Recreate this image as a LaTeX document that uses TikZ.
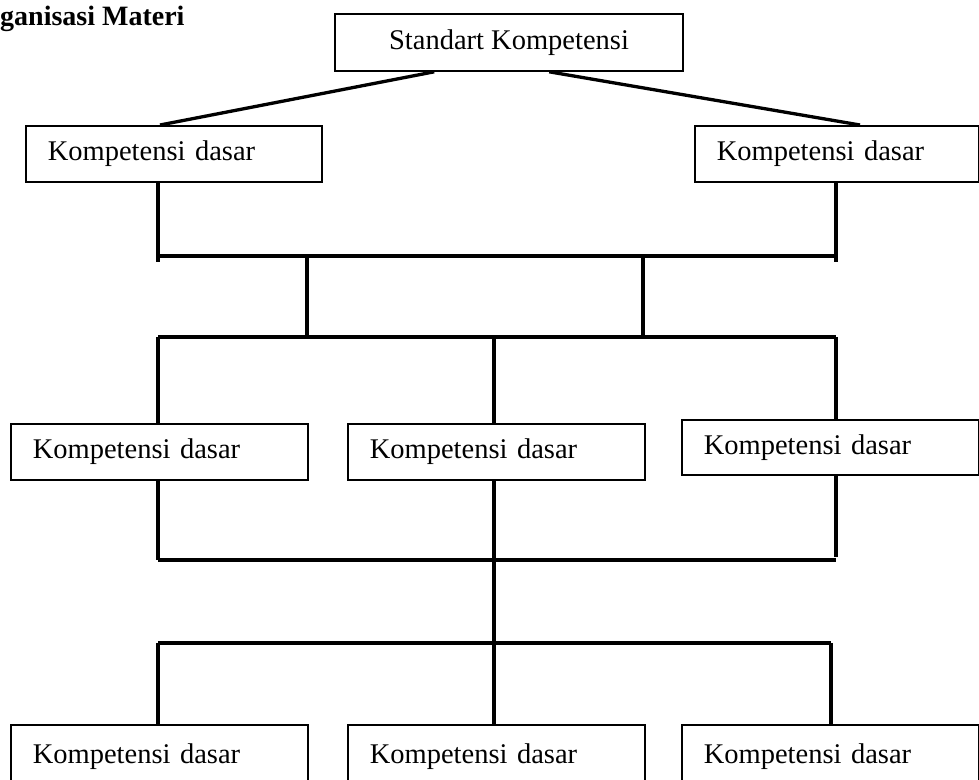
\documentclass[tikz,border=0pt]{standalone}
\usepackage{fontspec}
\setmainfont{Liberation Serif}
\begin{document}
\begin{tikzpicture}[x=1pt,y=-1pt,
  kbox/.style={draw,line width=1.6pt,anchor=north west,minimum height=56pt,
    inner xsep=22pt,inner ysep=0pt,align=left,text width=253pt,
    font=\fontsize{28.5}{34}\selectfont},
  conn/.style={line width=3.3pt}]
\useasboundingbox (0,0) rectangle (979,779);
\node[anchor=base west,inner sep=0pt,font=\fontsize{28}{34}\selectfont\bfseries] (title) at (0,25) {ganisasi Materi};
\node[draw,line width=1.6pt,minimum width=348pt,minimum height=57pt,inner sep=0pt,
  font=\fontsize{28.5}{34}\selectfont] (sk) at (509,42.5) {Standart Kompetensi};
% row 1
\node[kbox,text width=252pt] (kd1) at (25,125) {Kompetensi dasar};
\node[kbox,text width=240pt] (kd2) at (694,125) {Kompetensi dasar};
% row 2
\node[kbox] (m1) at (10,423) {Kompetensi dasar};
\node[kbox] (m2) at (347,423) {Kompetensi dasar};
\node[kbox,minimum height=55pt] (m3) at (681,419) {Kompetensi dasar};
% row 3
\node[kbox,minimum height=64pt] (b1) at (10,724) {Kompetensi dasar};
\node[kbox,minimum height=64pt] (b2) at (347,724) {Kompetensi dasar};
\node[kbox,minimum height=64pt] (b3) at (681,724) {Kompetensi dasar};
% junction coordinates
\coordinate (a1) at (158,256); \coordinate (a2) at (836,256);
\coordinate (e1) at (158,262); \coordinate (e2) at (836,262);
\coordinate (p1) at (307,256); \coordinate (p2) at (643,256);
\coordinate (c1) at (158,337); \coordinate (c2) at (494,337); \coordinate (c3) at (836,337);
\coordinate (d1) at (158,560); \coordinate (d2) at (494,560); \coordinate (d3) at (836,560);
\coordinate (d3e) at (836,557);
\coordinate (f1) at (158,643); \coordinate (f2) at (494,643); \coordinate (f3) at (831,643);
% connectors
\draw[conn] ([xshift=100pt]sk.south west) -- ([xshift=135pt]kd1.north west);
\draw[conn] ([xshift=215pt]sk.south west) -- ([xshift=166pt]kd2.north west);
\draw[conn] (kd1.south -| e1) -- (e1);
\draw[conn] (kd2.south -| e2) -- (e2);
\draw[conn] (a1) -- (a2);
\draw[conn] (p1) -- (p1 |- c1);
\draw[conn] (p2) -- (p2 |- c1);
\draw[conn] (c1) -- (c3);
\draw[conn] (c1) -- (c1 |- m1.north);
\draw[conn] (c2) -- (c2 |- m2.north);
\draw[conn] (c3) -- (c3 |- m3.north);
\draw[conn] (d1 |- m1.south) -- (d1);
\draw[conn] (d2 |- m2.south) -- (f2);
\draw[conn] (d3 |- m3.south) -- (d3e);
\draw[conn] (d1) -- (d3);
\draw[conn] (f1) -- (f3);
\draw[conn] (f1) -- (f1 |- b1.north);
\draw[conn] (f2) -- (f2 |- b2.north);
\draw[conn] (f3) -- (f3 |- b3.north);
\end{tikzpicture}
\end{document}
